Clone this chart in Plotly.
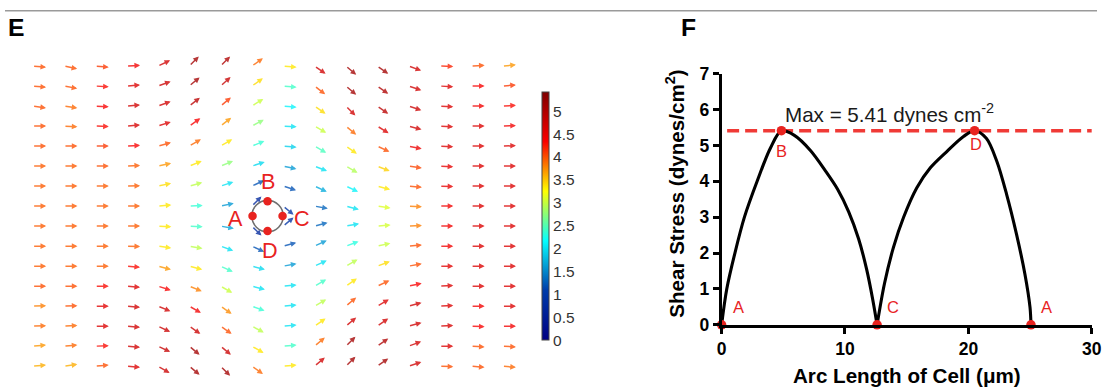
import math
import plotly.graph_objects as go
from plotly.colors import sample_colorscale, unlabel_rgb

FIG_W, FIG_H = 1107, 387
# The photographed page keeps an 8px body margin and is then fitted back into 1107x387;
# positions below are given in reference-picture pixels and mapped through this.
BODY_MARGIN = 8
CAPTURE_SX, CAPTURE_SY = 0.9858, 0.954
FONT_SCALE = 1 / 0.97

# ---------------- Panel E : shear-stress vector field (16 x 16 grid) ----------------
# arrow direction (degrees, counter-clockwise from +x) and magnitude (dynes/cm^2), per grid row (top -> bottom)
angle_r00 = [-5, -12, -5, 3, 25, 45, 45, 35, -5, -35, -40, -35, -20, -2, 3, 5]
angle_r01 = [-5, -10, -3, 5, 20, 40, 42, 35, -5, -38, -40, -35, -18, -3, 0, 5]
angle_r02 = [-8, -8, -3, 5, 20, 38, 40, 32, -5, -35, -45, -35, -18, -3, 0, 3]
angle_r03 = [0, -3, -2, 5, 18, 35, 38, 28, -3, -30, -40, -32, -15, -3, 0, 2]
angle_r04 = [0, 0, 0, 3, 15, 30, 30, 22, -5, -30, -35, -25, -12, -3, 0, 2]
angle_r05 = [0, 0, 0, 3, 12, 22, 22, 18, -12, -22, -30, -22, -8, -3, 0, 0]
angle_r06 = [0, 0, 0, 2, 12, 15, 18, 25, -18, -25, -25, -15, -5, -2, 0, 0]
angle_r07 = [0, 0, 0, 0, 5, 3, 12, 45, -40, -10, -15, -8, -3, 0, 0, 0]
angle_r08 = [0, 0, 0, 0, -3, -3, -10, -45, 40, 15, 10, 5, 3, 0, 0, 0]
angle_r09 = [0, 0, 0, -2, -8, -10, -20, -25, 15, 25, 20, 12, 5, 0, 0, 0]
angle_r10 = [0, 0, 0, -5, -15, -15, -25, -15, 10, 25, 30, 20, 10, 0, 0, 0]
angle_r11 = [0, 0, 0, -5, -18, -22, -30, -15, 5, 30, 35, 25, 12, 3, 0, 0]
angle_r12 = [2, 2, 0, -5, -22, -30, -35, -20, 5, 30, 40, 30, 15, 3, 0, 0]
angle_r13 = [2, 3, 0, -5, -25, -35, -35, -28, 5, 35, 40, 35, 15, 3, -2, 0]
angle_r14 = [5, 5, 2, -5, -25, -40, -40, -30, 5, 40, 45, 35, 20, 0, -3, -3]
angle_r15 = [5, 8, 5, -5, -30, -40, -45, -35, 5, 40, 45, 35, 18, -2, -5, -5]

mag_r00 = [4.0, 4.0, 4.1, 4.4, 4.7, 5.1, 5.0, 3.9, 3.35, 4.7, 5.1, 5.1, 4.7, 4.2, 4.0, 3.7]
mag_r01 = [4.0, 4.0, 4.3, 4.6, 4.75, 5.1, 4.8, 3.4, 2.4, 4.0, 5.1, 5.0, 4.7, 4.6, 4.35, 4.1]
mag_r02 = [4.0, 3.9, 4.35, 4.7, 4.7, 4.9, 4.1, 3.0, 2.1, 3.4, 4.7, 4.9, 4.75, 4.6, 4.4, 4.3]
mag_r03 = [4.0, 3.9, 4.3, 4.65, 4.6, 4.35, 3.7, 2.75, 2.0, 3.0, 3.9, 4.6, 4.7, 4.6, 4.6, 4.4]
mag_r04 = [4.0, 4.0, 4.1, 4.35, 4.0, 3.9, 3.35, 2.35, 1.9, 2.45, 3.35, 4.0, 4.45, 4.6, 4.6, 4.6]
mag_r05 = [3.95, 3.95, 4.0, 3.95, 3.7, 3.35, 2.75, 1.95, 1.6, 2.0, 2.9, 3.45, 4.05, 4.5, 4.6, 4.6]
mag_r06 = [3.95, 3.95, 3.95, 3.95, 3.4, 2.95, 2.0, 1.2, 1.2, 1.7, 2.1, 3.35, 4.0, 4.5, 4.6, 4.6]
mag_r07 = [3.95, 3.95, 3.95, 3.95, 3.35, 2.35, 1.6, 0.7, 0.9, 1.3, 2.0, 3.1, 3.8, 4.4, 4.6, 4.6]
mag_r08 = [3.95, 3.95, 3.95, 3.95, 3.35, 2.4, 1.65, 0.7, 0.9, 1.3, 2.0, 3.05, 3.8, 4.4, 4.6, 4.6]
mag_r09 = [3.95, 3.95, 3.95, 3.95, 3.35, 2.95, 2.0, 1.2, 1.2, 1.6, 2.3, 3.0, 4.0, 4.4, 4.6, 4.6]
mag_r10 = [3.95, 3.95, 3.95, 4.3, 3.7, 3.35, 2.4, 1.95, 1.6, 2.0, 2.95, 3.4, 4.0, 4.55, 4.6, 4.6]
mag_r11 = [4.0, 4.0, 4.3, 4.6, 4.35, 3.8, 3.0, 2.0, 2.0, 2.4, 3.35, 4.0, 4.35, 4.6, 4.6, 4.6]
mag_r12 = [3.8, 4.0, 4.55, 4.7, 4.7, 4.4, 3.75, 2.35, 2.0, 2.95, 4.0, 4.6, 4.7, 4.6, 4.4, 4.6]
mag_r13 = [3.9, 3.9, 4.6, 4.7, 4.75, 4.75, 4.0, 2.95, 2.0, 3.35, 4.7, 4.7, 4.7, 4.65, 4.35, 4.4]
mag_r14 = [3.7, 3.9, 4.3, 4.7, 4.8, 5.1, 4.75, 3.35, 2.4, 3.9, 5.1, 5.0, 4.7, 4.6, 4.0, 4.0]
mag_r15 = [3.6, 3.6, 4.0, 4.6, 4.75, 5.1, 5.1, 3.9, 3.35, 4.7, 5.1, 5.1, 4.7, 4.0, 4.0, 3.9]

colorbar_ticks = [0, 0.5, 1, 1.5, 2, 2.5, 3, 3.5, 4, 4.5, 5]
colorbar_ticktext = ["0", "0.5", "1", "1.5", "2", "2.5", "3", "3.5", "4", "4.5", "5"]
cell_center = (7.5, 7.5)            # grid units (centre of the 16 x 16 grid)
cell_point_names = ["A", "B", "C", "D"]

# ---------------- Panel F : shear stress along the cell arc ----------------
hump1_x = [0.0, 0.42, 1.08, 1.85, 2.88, 3.96, 4.85, 5.9, 7.2, 8.4, 9.4, 10.3, 11.1, 11.75, 12.25, 12.6]
hump1_y = [0.0, 1.0, 2.0, 3.0, 4.0, 4.93, 5.41, 5.28, 4.86, 4.3, 3.78, 3.15, 2.4, 1.55, 0.7, 0.0]
hump2_x = [12.6, 13.2, 13.92, 14.74, 15.82, 16.9, 18.25, 19.6, 20.5, 21.45, 22.3, 23.1, 23.9, 24.58, 24.99, 25.07]
hump2_y = [0.0, 1.15, 2.15, 2.99, 3.82, 4.37, 4.83, 5.25, 5.41, 5.2, 4.56, 3.63, 2.52, 1.41, 0.49, 0.0]
point_x = [0.0, 4.85, 12.6, 20.5, 25.07]
point_y = [0.0, 5.41, 0.0, 5.41, 0.0]
point_labels = ["A", "B", "C", "D", "A"]
max_value = 5.41
x_ticks = [0, 10, 20, 30]
y_ticks = [0, 1, 2, 3, 4, 5, 6, 7]

# ---------------- layout constants (reference-picture pixels) ----------------
GRID_X0, GRID_Y0 = 35.5, 64.0       # pixel of grid point (0,0)
PX_PER_COL, PX_PER_ROW = 31.3, 20.13
ARROW_PX = 13.5
CMAX = 5.41
FONT = "Liberation Sans, Arial, Helvetica, sans-serif"
RED = "#e8231f"


def fig_x(p):
    return p / CAPTURE_SX - BODY_MARGIN


def fig_y(p):
    return p / CAPTURE_SY - BODY_MARGIN


def px_x(p):
    return fig_x(p) / FIG_W


def px_y(p):
    return 1 - fig_y(p) / FIG_H


def fs(size):
    return round(size * FONT_SCALE, 1)


left_x_dom = [px_x(GRID_X0 - 0.5 * PX_PER_COL), px_x(GRID_X0 + 15.5 * PX_PER_COL)]
left_y_dom = [px_y(GRID_Y0 + 15.5 * PX_PER_ROW), px_y(GRID_Y0 - 0.5 * PX_PER_ROW)]
right_x_dom = [px_x(724), px_x(1094)]
right_y_dom = [px_y(324.3), px_y(71.7)]


def arrow_color(m):
    rgb = unlabel_rgb(sample_colorscale("Jet", [min(max(m / CMAX, 0), 1)])[0])
    r, g, b = [c + (255 - c) * 0.22 for c in rgb]
    return f"rgb({r:.0f},{g:.0f},{b:.0f})"


angle_rows = [angle_r00, angle_r01, angle_r02, angle_r03, angle_r04, angle_r05, angle_r06, angle_r07,
              angle_r08, angle_r09, angle_r10, angle_r11, angle_r12, angle_r13, angle_r14, angle_r15]
mag_rows = [mag_r00, mag_r01, mag_r02, mag_r03, mag_r04, mag_r05, mag_r06, mag_r07,
            mag_r08, mag_r09, mag_r10, mag_r11, mag_r12, mag_r13, mag_r14, mag_r15]

fig = go.Figure()
annotations = []

for r, (angs, mags) in enumerate(zip(angle_rows, mag_rows)):
    for c, (a, m) in enumerate(zip(angs, mags)):
        t = math.radians(a)
        hx = c + ARROW_PX * math.cos(t) / PX_PER_COL
        hy = r - ARROW_PX * math.sin(t) / PX_PER_ROW
        annotations.append(dict(
            x=hx, y=hy, ax=c, ay=r, xref="x", yref="y", axref="x", ayref="y",
            text="", showarrow=True, arrowhead=2, arrowsize=0.75, arrowwidth=1.5,
            arrowcolor=arrow_color(m)))

# colour bar carrier (invisible point)
fig.add_trace(go.Scatter(
    x=[cell_center[0]], y=[cell_center[1]], mode="markers", xaxis="x", yaxis="y",
    marker=dict(size=1, opacity=0, color=[0], cmin=0, cmax=CMAX, colorscale="Jet", showscale=True,
                colorbar=dict(thickness=7, thicknessmode="pixels", len=248, lenmode="pixels",
                              x=px_x(545), xanchor="left", y=px_y(340), yanchor="bottom",
                              xpad=0, ypad=0, outlinewidth=1, outlinecolor="#444",
                              tickvals=colorbar_ticks, ticktext=colorbar_ticktext, ticks="",
                              tickfont=dict(family=FONT, size=fs(15), color="#333"))),
    hoverinfo="skip", showlegend=False))

# cell outline
CELL_R = 15.0
fig.add_trace(go.Scatter(
    x=[cell_center[0]], y=[cell_center[1]], mode="markers", xaxis="x", yaxis="y",
    marker=dict(symbol="circle-open", size=2 * CELL_R / CAPTURE_SY, color="#707070", line=dict(width=1.6)),
    hoverinfo="skip", showlegend=False))

# points A B C D on the cell
dir_px = {"A": (-1, 0), "B": (0, -1), "C": (1, 0), "D": (0, 1)}
cx = [cell_center[0] + dir_px[n][0] * CELL_R / PX_PER_COL for n in cell_point_names]
cy = [cell_center[1] + dir_px[n][1] * CELL_R / PX_PER_ROW for n in cell_point_names]
fig.add_trace(go.Scatter(x=cx, y=cy, mode="markers", xaxis="x", yaxis="y",
                         marker=dict(size=8.5, color=RED), hoverinfo="skip", showlegend=False))
label_shift = {"A": (-32, -2), "B": (0, 33), "C": (34, -2), "D": (2, -33)}
for n in cell_point_names:
    annotations.append(dict(x=cell_center[0], y=cell_center[1], xref="x", yref="y",
                            text=n, showarrow=False,
                            xshift=label_shift[n][0] / CAPTURE_SX, yshift=label_shift[n][1] / CAPTURE_SY,
                            font=dict(family=FONT, size=fs(21), color=RED)))

# ---------------- Panel F traces ----------------
fig.add_trace(go.Scatter(x=[0.45, 30], y=[max_value, max_value], mode="lines", xaxis="x2", yaxis="y2",
                         line=dict(color="#f03a36", width=3.6, dash="12px,6px"),
                         hoverinfo="skip", showlegend=False, cliponaxis=False))
for hx_, hy_ in [(hump1_x, hump1_y), (hump2_x, hump2_y)]:
    fig.add_trace(go.Scatter(x=hx_, y=hy_, mode="lines", xaxis="x2", yaxis="y2",
                             line=dict(color="black", width=3.1, shape="spline", smoothing=0.9),
                             hoverinfo="skip", showlegend=False))
fig.add_trace(go.Scatter(x=point_x, y=point_y, mode="markers", xaxis="x2", yaxis="y2",
                         marker=dict(size=9.5, color=RED), cliponaxis=False,
                         hoverinfo="skip", showlegend=False))
pt_shift = [(17, 17), (0, -19), (16, 17), (1, -13), (15, 17)]
for xv, yv, lab, (dx, dy) in zip(point_x, point_y, point_labels, pt_shift):
    annotations.append(dict(x=xv, y=yv, xref="x2", yref="y2", text=lab, showarrow=False,
                            xshift=dx / CAPTURE_SX, yshift=dy / CAPTURE_SY,
                            font=dict(family=FONT, size=fs(16), color=RED)))

annotations.append(dict(x=4.95, y=5.9, xref="x2", yref="y2", xanchor="left", yanchor="middle",
                        text=f"Max = {max_value} dynes cm<sup>-2</sup>", showarrow=False,
                        font=dict(family=FONT, size=fs(20), color="#1a1a1a")))

# axis titles
annotations.append(dict(x=px_x(909), y=px_y(375), xref="paper", yref="paper", showarrow=False,
                        xanchor="center", yanchor="middle",
                        text="Arc Length of Cell (\u03bcm)",
                        font=dict(family=FONT, size=fs(20), color="black", weight="bold")))
annotations.append(dict(x=px_x(678), y=px_y(193), xref="paper", yref="paper", showarrow=False,
                        xanchor="center", yanchor="middle",
                        text="Shear Stress (dynes/cm<sup>2</sup>)", textangle=-90,
                        font=dict(family=FONT, size=fs(20), color="black", weight="bold")))

# panel letters
annotations.append(dict(x=px_x(9), y=px_y(25), xref="paper", yref="paper", xanchor="left",
                        yanchor="middle", text="E", showarrow=False,
                        font=dict(family=FONT, size=fs(24), color="black", weight="bold")))
annotations.append(dict(x=px_x(681), y=px_y(25), xref="paper", yref="paper", xanchor="left",
                        yanchor="middle", text="F", showarrow=False,
                        font=dict(family=FONT, size=fs(24), color="black", weight="bold")))

axis_font = dict(family=FONT, size=fs(17), color="black", weight="bold")
fig.update_layout(
    width=FIG_W, height=FIG_H, margin=dict(l=0, r=0, t=0, b=0),
    paper_bgcolor="white", plot_bgcolor="white", hovermode=False,
    xaxis=dict(domain=left_x_dom, range=[-0.5, 15.5], visible=False, fixedrange=True),
    yaxis=dict(domain=left_y_dom, range=[15.5, -0.5], visible=False, fixedrange=True),
    xaxis2=dict(domain=right_x_dom, range=[0, 30], anchor="y2", tickvals=x_ticks,
                showline=True, linecolor="black", linewidth=2.6, ticks="outside", ticklen=6,
                tickwidth=2.6, tickcolor="black", showgrid=False, zeroline=False, tickfont=axis_font,
                ticklabeloverflow="allow"),
    yaxis2=dict(domain=right_y_dom, range=[0, 7], anchor="x2", tickvals=y_ticks,
                showline=True, linecolor="black", linewidth=2.6, ticks="outside", ticklen=6,
                tickwidth=2.6, tickcolor="black", showgrid=False, zeroline=False, tickfont=axis_font),
    annotations=annotations,
    shapes=[dict(type="line", xref="paper", yref="paper", x0=0, x1=1, y0=0.998, y1=0.998,
                 line=dict(color="#9a9a9a", width=1.6))],
)

fig.write_html("out.html")
